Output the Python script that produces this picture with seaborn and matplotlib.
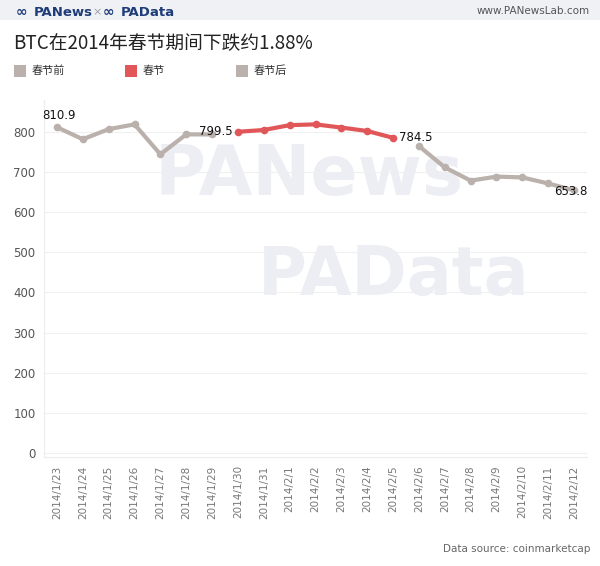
import numpy as np
import pandas as pd
import matplotlib
matplotlib.use("Agg")
import matplotlib.pyplot as plt
from matplotlib.patches import Rectangle
import seaborn as sns

# ---------------- data ----------------
dates = ["2014/1/23", "2014/1/24", "2014/1/25", "2014/1/26", "2014/1/27", "2014/1/28",
         "2014/1/29", "2014/1/30", "2014/1/31", "2014/2/1", "2014/2/2", "2014/2/3",
         "2014/2/4", "2014/2/5", "2014/2/6", "2014/2/7", "2014/2/8", "2014/2/9",
         "2014/2/10", "2014/2/11", "2014/2/12"]
prices = [810.9, 781, 806, 818, 743.5, 793, 793,
          799.5, 804, 816, 818, 810, 801.5, 784.5,
          764, 711, 678, 688, 686, 671, 653.8]
periods = ["春节前"] * 7 + ["春节"] * 7 + ["春节后"] * 7
period_names = ["春节前", "春节", "春节后"]
period_colors = ["#bab0ac", "#e15759", "#bab0ac"]
y_ticks = [0, 100, 200, 300, 400, 500, 600, 700, 800]
title = "BTC在2014年春节期间下跌约1.88%"

df = pd.DataFrame({"pos": np.arange(len(dates)), "date": dates,
                   "price": prices, "period": periods})

# ---------------- style ----------------
sns.set_theme(style="white")
plt.rcParams["font.family"] = ["DejaVu Sans", "Noto Sans CJK SC"]

W, H = 600, 566
fig = plt.figure(figsize=(W / 100, H / 100), dpi=100)
fig.patch.set_facecolor("white")

def fx(px):
    return px / W

def fy(py):
    return 1 - py / H

ax = fig.add_axes([fx(44), fy(457), fx(587) - fx(44), (457 - 100) / H])
ax.patch.set_alpha(0)

# header band
fig.patches.append(Rectangle((0, fy(20)), 1, 20 / H, transform=fig.transFigure,
                             facecolor="#f0f1f5", edgecolor="none", zorder=-2))
fig.text(fx(16), fy(12), "∞", fontsize=10, color="#1d3c78", weight="bold", va="center")
fig.text(fx(34), fy(12), "PANews", fontsize=9.5, color="#1d3c78", weight="bold", va="center")
fig.text(fx(92), fy(12), "×", fontsize=8, color="#9aa0ad", va="center")
fig.text(fx(103), fy(12), "∞", fontsize=10, color="#1d3c78", weight="bold", va="center")
fig.text(fx(121), fy(12), "PAData", fontsize=9.5, color="#1d3c78", weight="bold", va="center")
fig.text(fx(590), fy(11), "www.PANewsLab.com", fontsize=7.5, color="#555555",
         ha="right", va="center")

# title
fig.text(fx(13), fy(44), title, fontsize=13.5, color="#222222", va="center",
         family=["Noto Sans CJK SC", "DejaVu Sans"])

# legend
leg_x = [14, 125, 236]
for x0, name, col in zip(leg_x, period_names, period_colors):
    fig.patches.append(Rectangle((fx(x0), fy(77)), 12 / W, 12 / H,
                                 transform=fig.transFigure, facecolor=col,
                                 edgecolor="none"))
    fig.text(fx(x0 + 18), fy(71), name, fontsize=8, color="#333333", va="center",
             family=["Noto Sans CJK SC", "DejaVu Sans"])

# watermarks
ax.text(fx(155), fy(176), "PANews", transform=fig.transFigure, fontsize=50,
        weight="bold", color="#eceef4", va="center", ha="left", zorder=0.5)
ax.text(fx(258), fy(276), "PAData", transform=fig.transFigure, fontsize=48,
        weight="bold", color="#eceef4", va="center", ha="left", zorder=0.5)

# grid
for t in y_ticks:
    ax.axhline(t, color="#f0f0f0", lw=0.8, zorder=0.3)

# lines
sns.lineplot(data=df, x="pos", y="price", hue="period", hue_order=period_names,
             palette=dict(zip(period_names, period_colors)), marker="o",
             markersize=5.5, markeredgewidth=0, linewidth=3, sort=False,
             legend=False, ax=ax, zorder=3)

# data labels
lab_kw = dict(fontsize=8.5, color="#111111", zorder=4)
ax.annotate(f"{prices[0]:.1f}", (0, prices[0]), xytext=(1.5, 3.5), textcoords="offset points",
            ha="center", va="bottom", **lab_kw)
ax.annotate(f"{prices[7]:.1f}", (7, prices[7]), xytext=(-4, 0), textcoords="offset points",
            ha="right", va="center", **lab_kw)
ax.annotate(f"{prices[13]:.1f}", (13, prices[13]), xytext=(4, 0), textcoords="offset points",
            ha="left", va="center", **lab_kw)
ax.annotate(f"{prices[20]:.1f}", (20, prices[20]), xytext=(-2, -1), textcoords="offset points",
            ha="center", va="center", **lab_kw)

# axes
ax.set_xlim(-0.5, len(dates) - 0.5)
ax.set_ylim(-9.5, 878.6)
ax.set_xticks(df["pos"])
ax.set_xticklabels(dates, rotation=90, fontsize=7.5, color="#777777")
ax.set_yticks(y_ticks)
ax.set_yticklabels([str(t) for t in y_ticks], fontsize=8.5, color="#555555")
ax.tick_params(axis="both", length=0, pad=6)
ax.set_xlabel("")
ax.set_ylabel("")
for s in ["top", "right"]:
    ax.spines[s].set_visible(False)
for s in ["left", "bottom"]:
    ax.spines[s].set_color("#ececec")
    ax.spines[s].set_linewidth(0.8)

fig.text(fx(590), fy(549), "Data source: coinmarketcap", fontsize=7.5,
         color="#666666", ha="right", va="center")

fig.savefig("out.png", dpi=100)
